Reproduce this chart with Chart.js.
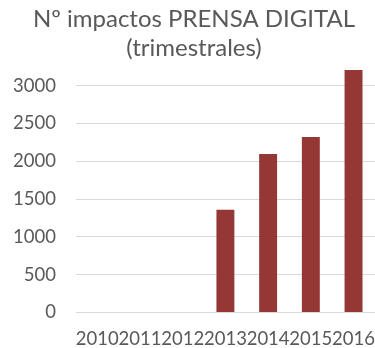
<!DOCTYPE html>
<html>
<head>
<meta charset="utf-8">
<script src="https://cdn.jsdelivr.net/npm/chart.js@4/dist/chart.umd.min.js"></script>
<style>
  html, body { margin: 0; padding: 0; background: #fff; }
  #wrap { position: relative; width: 375px; height: 348px; }
</style>
</head>
<body>
<div id="wrap"><canvas id="bar-chart"></canvas></div>
<script>
// impactos trimestrales por año
const years = ['2010', '2011', '2012', '2013', '2014', '2015', '2016'];
const impactos = [0, 0, 0, 1360, 2095, 2320, 3205];
const yTicks = [0, 500, 1000, 1500, 2000, 2500, 3000];

const textColor = '#595959';
const font = 'Lato, "Open Sans", sans-serif';

const config = {
  type: 'bar',
  data: {
    labels: years,
    datasets: [{
      label: 'Nº impactos',
      data: impactos,
      backgroundColor: '#953735',
      categoryPercentage: 1,
      barPercentage: 0.42,
      clip: false // la barra de 2016 sobresale por encima de 3000
    }]
  },
  options: {
    responsive: true,
    maintainAspectRatio: false,
    animation: false,
    layout: { padding: { left: 13, right: 0, top: 0, bottom: 0 } },
    plugins: {
      legend: { display: false },
      tooltip: { enabled: false },
      title: {
        display: true,
        text: ['Nº impactos PRENSA DIGITAL', '(trimestrales)'],
        color: textColor,
        font: { family: font, size: 24, weight: 'normal', lineHeight: 1.2 },
        padding: { top: 5, bottom: 23 }
      }
    },
    scales: {
      x: {
        // el hueco bajo el eje sale de tickLength, no de ticks.padding
        grid: { display: false, drawTicks: true, tickLength: 17 },
        border: { display: false },
        ticks: {
          color: textColor,
          font: { family: font, size: 18.5, lineHeight: 1 },
          autoSkip: false,
          maxRotation: 0,
          padding: 0
        }
      },
      y: {
        min: 0,
        max: 3000,
        afterBuildTicks: (axis) => { axis.ticks = yTicks.map(v => ({ value: v })); },
        grid: { color: '#d9d9d9', lineWidth: 1, drawTicks: true, tickLength: 20, tickColor: 'rgba(0,0,0,0)' },
        border: { display: false },
        ticks: {
          color: textColor,
          font: { family: font, size: 18.5 },
          padding: 0,
          callback: (v) => String(v)
        }
      }
    }
  }
};

new Chart(document.getElementById('bar-chart').getContext('2d'), config);
</script>
</body>
</html>
